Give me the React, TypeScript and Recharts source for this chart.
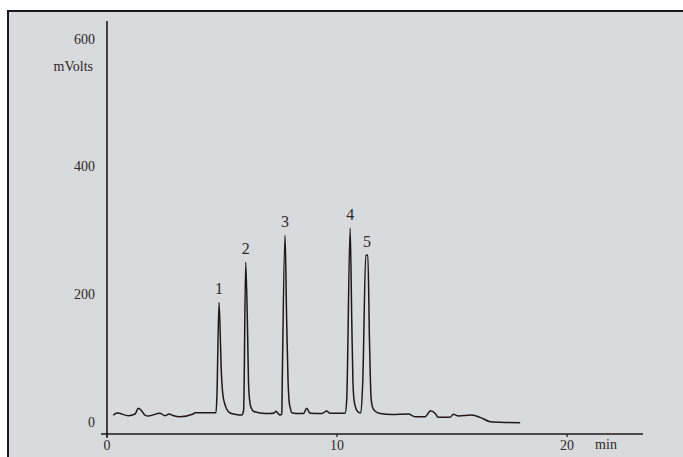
import { LineChart, Line, XAxis, YAxis, ReferenceLine, ReferenceDot } from 'recharts';

// retention time (min) and detector signal (mV)
const times = [
  0.27, 0.45, 0.93, 1.22, 1.36, 1.51, 1.65, 1.8, 2.3, 2.52, 2.71, 2.87, 3.17, 3.75, 3.83, 4.74,
  4.78, 4.87, 4.93, 4.96, 5.03, 5.11, 5.2, 5.35, 5.61, 5.86,
  5.94, 6.03, 6.11, 6.15, 6.2, 6.26, 6.39, 6.65, 7.09, 7.26, 7.35, 7.44, 7.52,
  7.6, 7.62, 7.74, 7.81, 7.87, 7.93, 7.96, 8.03, 8.22, 8.54, 8.68, 8.83, 9.35, 9.55, 9.7, 10.35,
  10.42, 10.57, 10.64, 10.69, 10.74, 10.83, 10.97, 11.04,
  11.12, 11.25, 11.34, 11.41, 11.48, 11.54, 11.65, 11.87,
  12.39, 13.1, 13.39, 13.83, 14.07, 14.26, 14.4, 14.91, 15.06, 15.27, 15.86, 16.22, 16.65, 17.09, 17.96,
];
const signal = [
  10.6, 13.8, 9.6, 12.2, 21.1, 16.9, 10.6, 9.1, 13.3, 9.6, 12.2, 9.9, 8.0, 12.2, 14.3, 14.3,
  42, 187, 128, 89, 45, 29.4, 20, 13.8, 11.4, 10.6,
  18.5, 250, 144, 65, 34, 22.4, 16.1, 13.8, 13, 13.8, 16.4, 13, 10.6,
  12.2, 65, 292, 159, 65, 28, 23.2, 14.3, 13, 13, 21.1, 13.3, 13, 16.9, 13.3, 13.3,
  34, 303, 159, 65, 34, 20, 14.3, 14.3,
  65, 261, 261, 128, 37, 23.2, 16.9, 13,
  11.4, 12.2, 8.0, 8.0, 17.4, 13.3, 7.0, 7.0, 11.7, 9.1, 10.6, 7.0, 0.2, -0.8, -1.4,
];

const peakNames = ['1', '2', '3', '4', '5'];
const peakTimes = [4.87, 6.03, 7.74, 10.57, 11.3];
const peakHeights = [187, 250, 292, 303, 261];

const xTicks = [0, 10, 20];
const yTicks = [0, 200, 400, 600];

const data = times.map((t, i) => ({ t, mv: signal[i] }));

const FONT = 'Liberation Serif, Times New Roman, serif';
const INK = '#1f1818';
const TEXT = '#2e2828';

export default function App() {
  return (
    <div>
      <div
        style={{
          position: 'absolute',
          left: 7,
          top: 10,
          width: 676,
          height: 447,
          background: '#d9dadd',
          borderTop: `2px solid ${INK}`,
          borderLeft: `2px solid ${INK}`,
          boxSizing: 'border-box',
        }}
      />
      <div style={{ position: 'absolute', left: 0, top: 0 }}>
        <LineChart
          width={683}
          height={457}
          data={data}
          margin={{ top: 21, right: 40, left: 41, bottom: 3 }}
        >
          <XAxis
            type="number"
            dataKey="t"
            domain={[-0.26, 23.3]}
            ticks={xTicks}
            allowDataOverflow
            height={20}
            axisLine={{ stroke: INK, strokeWidth: 1.6 }}
            tickLine={{ stroke: INK, strokeWidth: 1.2 }}
            tickSize={3}
            tickMargin={3}
            tick={{ fill: TEXT, fontSize: 14, fontFamily: FONT }}
            label={(props: any) => {
              const vb = props.viewBox;
              return (
                <text
                  x={vb.x + vb.width - 37}
                  y={vb.y + 10}
                  dominantBaseline="central"
                  textAnchor="middle"
                  fill={TEXT}
                  fontSize={14}
                  fontFamily={FONT}
                >
                  min
                </text>
              );
            }}
          />
          <YAxis
            type="number"
            domain={[-19.1, 627.7]}
            ticks={yTicks}
            allowDataOverflow
            width={60}
            axisLine={false}
            tickLine={false}
            tickSize={0}
            tickMargin={6}
            tick={{ fill: TEXT, fontSize: 14, fontFamily: FONT }}
            label={(props: any) => {
              const vb = props.viewBox;
              return (
                <text
                  x={vb.x + vb.width - 8}
                  y={vb.y + 45}
                  dominantBaseline="central"
                  textAnchor="end"
                  fill={TEXT}
                  fontSize={14}
                  fontFamily={FONT}
                >
                  mVolts
                </text>
              );
            }}
          />
          <ReferenceLine
            segment={[
              { x: 0, y: -25 },
              { x: 0, y: 627.7 },
            ]}
            stroke={INK}
            strokeWidth={1.6}
            ifOverflow="visible"
          />
          <Line
            type="monotone"
            dataKey="mv"
            stroke={INK}
            strokeWidth={1.5}
            dot={false}
            activeDot={false}
            isAnimationActive={false}
          />
          {peakNames.map((name, i) => (
            <ReferenceDot
              key={name}
              x={peakTimes[i]}
              y={peakHeights[i]}
              r={0}
              fill="none"
              stroke="none"
              label={{
                value: name,
                position: 'top',
                offset: 8,
                fill: TEXT,
                fontSize: 16,
                fontFamily: FONT,
              }}
            />
          ))}
        </LineChart>
      </div>
    </div>
  );
}
